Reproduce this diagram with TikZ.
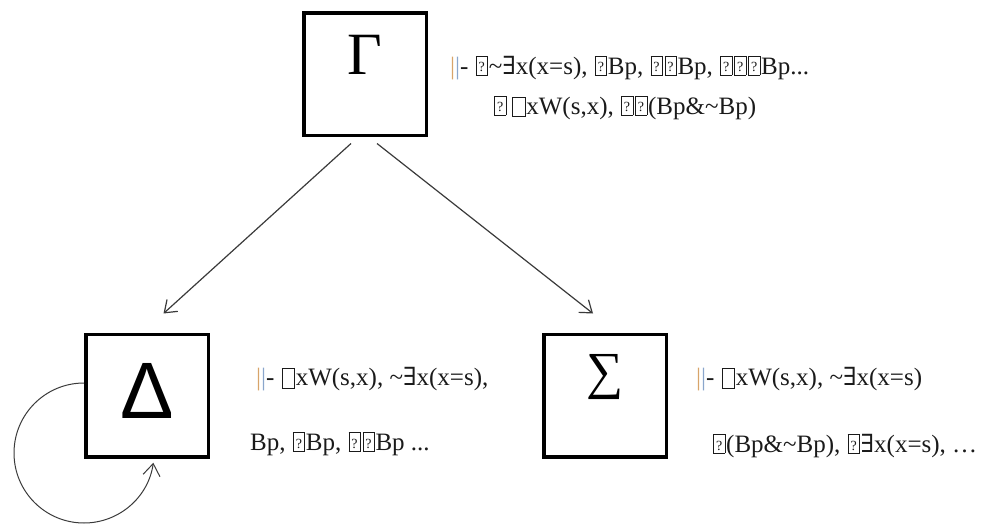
\documentclass[tikz,border=0pt]{standalone}
\usepackage{fontspec}
\setmainfont{Liberation Serif}
\newfontfamily\greeksans{Liberation Sans}
\newfontfamily\symserif{DejaVu Serif}
\usetikzlibrary{arrows.meta, positioning, calc}
\definecolor{ink}{HTML}{1A1A1A}
\definecolor{wire}{HTML}{3A3A3A}
\definecolor{barA}{HTML}{D8A46A}
\definecolor{barB}{HTML}{8AA6CC}
\newcommand{\qbox}{\kern1pt{\fboxsep=0pt\fboxrule=0.6pt\framebox[0.48em][c]{\rule[-0.02em]{0pt}{0.74em}\raisebox{0.1em}{\fontsize{14}{14}\selectfont ?}}}\kern1pt}
\newcommand{\sqbox}{\kern1pt{\fboxsep=0pt\fboxrule=0.6pt\framebox[0.52em][c]{\rule[-0.08em]{0pt}{0.76em}}}\kern1pt}
\newcommand{\exi}{{\symserif ∃}}
\newcommand{\turn}{\textcolor{barA}{|}\textcolor{barB}{|}-}

\begin{document}
\begin{tikzpicture}[x=1pt, y=1pt,
  box/.style={rectangle, draw=black, line width=3.5pt, minimum size=122.5pt, inner sep=0pt},
  fml/.style={anchor=base west, inner sep=0pt, text=ink, font=\fontsize{25}{30}\selectfont},
  arr/.style={-{Straight Barb[length=11pt,width=16pt]}, wire, line width=1.2pt},
  selfarr/.style={-{Straight Barb[length=12pt,width=17pt]}, wire, line width=1pt}
]
  \useasboundingbox (0,0) rectangle (987,523);
  \node[box, font=\fontsize{60}{60}\selectfont] (gamma) at (365,448.5) {\raisebox{-0.5pt}[0pt][0pt]{Γ}};
  \node[box, font=\greeksans\fontsize{80}{80}\selectfont, below left=195pt and 92pt of gamma] (delta) {\raisebox{-22.5pt}[0pt][0pt]{Δ}};
  \node[box, font=\fontsize{52}{52}\selectfont, below right=195pt and 114pt of gamma] (sigma) {\raisebox{7pt}[0pt][0pt]{∑}};

  \node[fml] (gammaA) at ([xshift=22pt, yshift=-63pt]gamma.north east) {\turn\ \qbox\textasciitilde\exi x(x=s), \qbox Bp, \qbox\qbox Bp, \qbox\qbox\qbox Bp...};
  \node[fml] (gammaB) at ([xshift=43pt, yshift=-40pt]gammaA.base west) {\qbox\,\sqbox xW(s,x), \qbox\qbox(Bp\&\textasciitilde Bp)};
  \node[fml] (deltaA) at ([xshift=46pt, yshift=-53pt]delta.north east) {\turn\ \sqbox xW(s,x), \textasciitilde\exi x(x=s),};
  \node[fml] (deltaB) at ([xshift=-6pt, yshift=-65pt]deltaA.base west) {Bp, \qbox Bp, \qbox\qbox Bp ...};
  \node[fml] (sigmaA) at ([xshift=28pt, yshift=-53pt]sigma.north east) {\turn\ \sqbox xW(s,x), \textasciitilde\exi x(x=s)};
  \node[fml] (sigmaB) at ([xshift=16pt, yshift=-67pt]sigmaA.base west) {\qbox(Bp\&\textasciitilde Bp), \qbox\exi x(x=s), …};

  \draw[arr] ([xshift=-14pt, yshift=-6pt]gamma.south) -- ([xshift=16.5pt, yshift=19pt]delta.north);
  \draw[arr] ([xshift=12pt, yshift=-6pt]gamma.south) -- ([xshift=-12pt, yshift=19pt]sigma.north);
  \draw[selfarr] ([yshift=12.5pt]delta.west) arc[start angle=90, end angle=352, radius=70pt];
\end{tikzpicture}
\end{document}
